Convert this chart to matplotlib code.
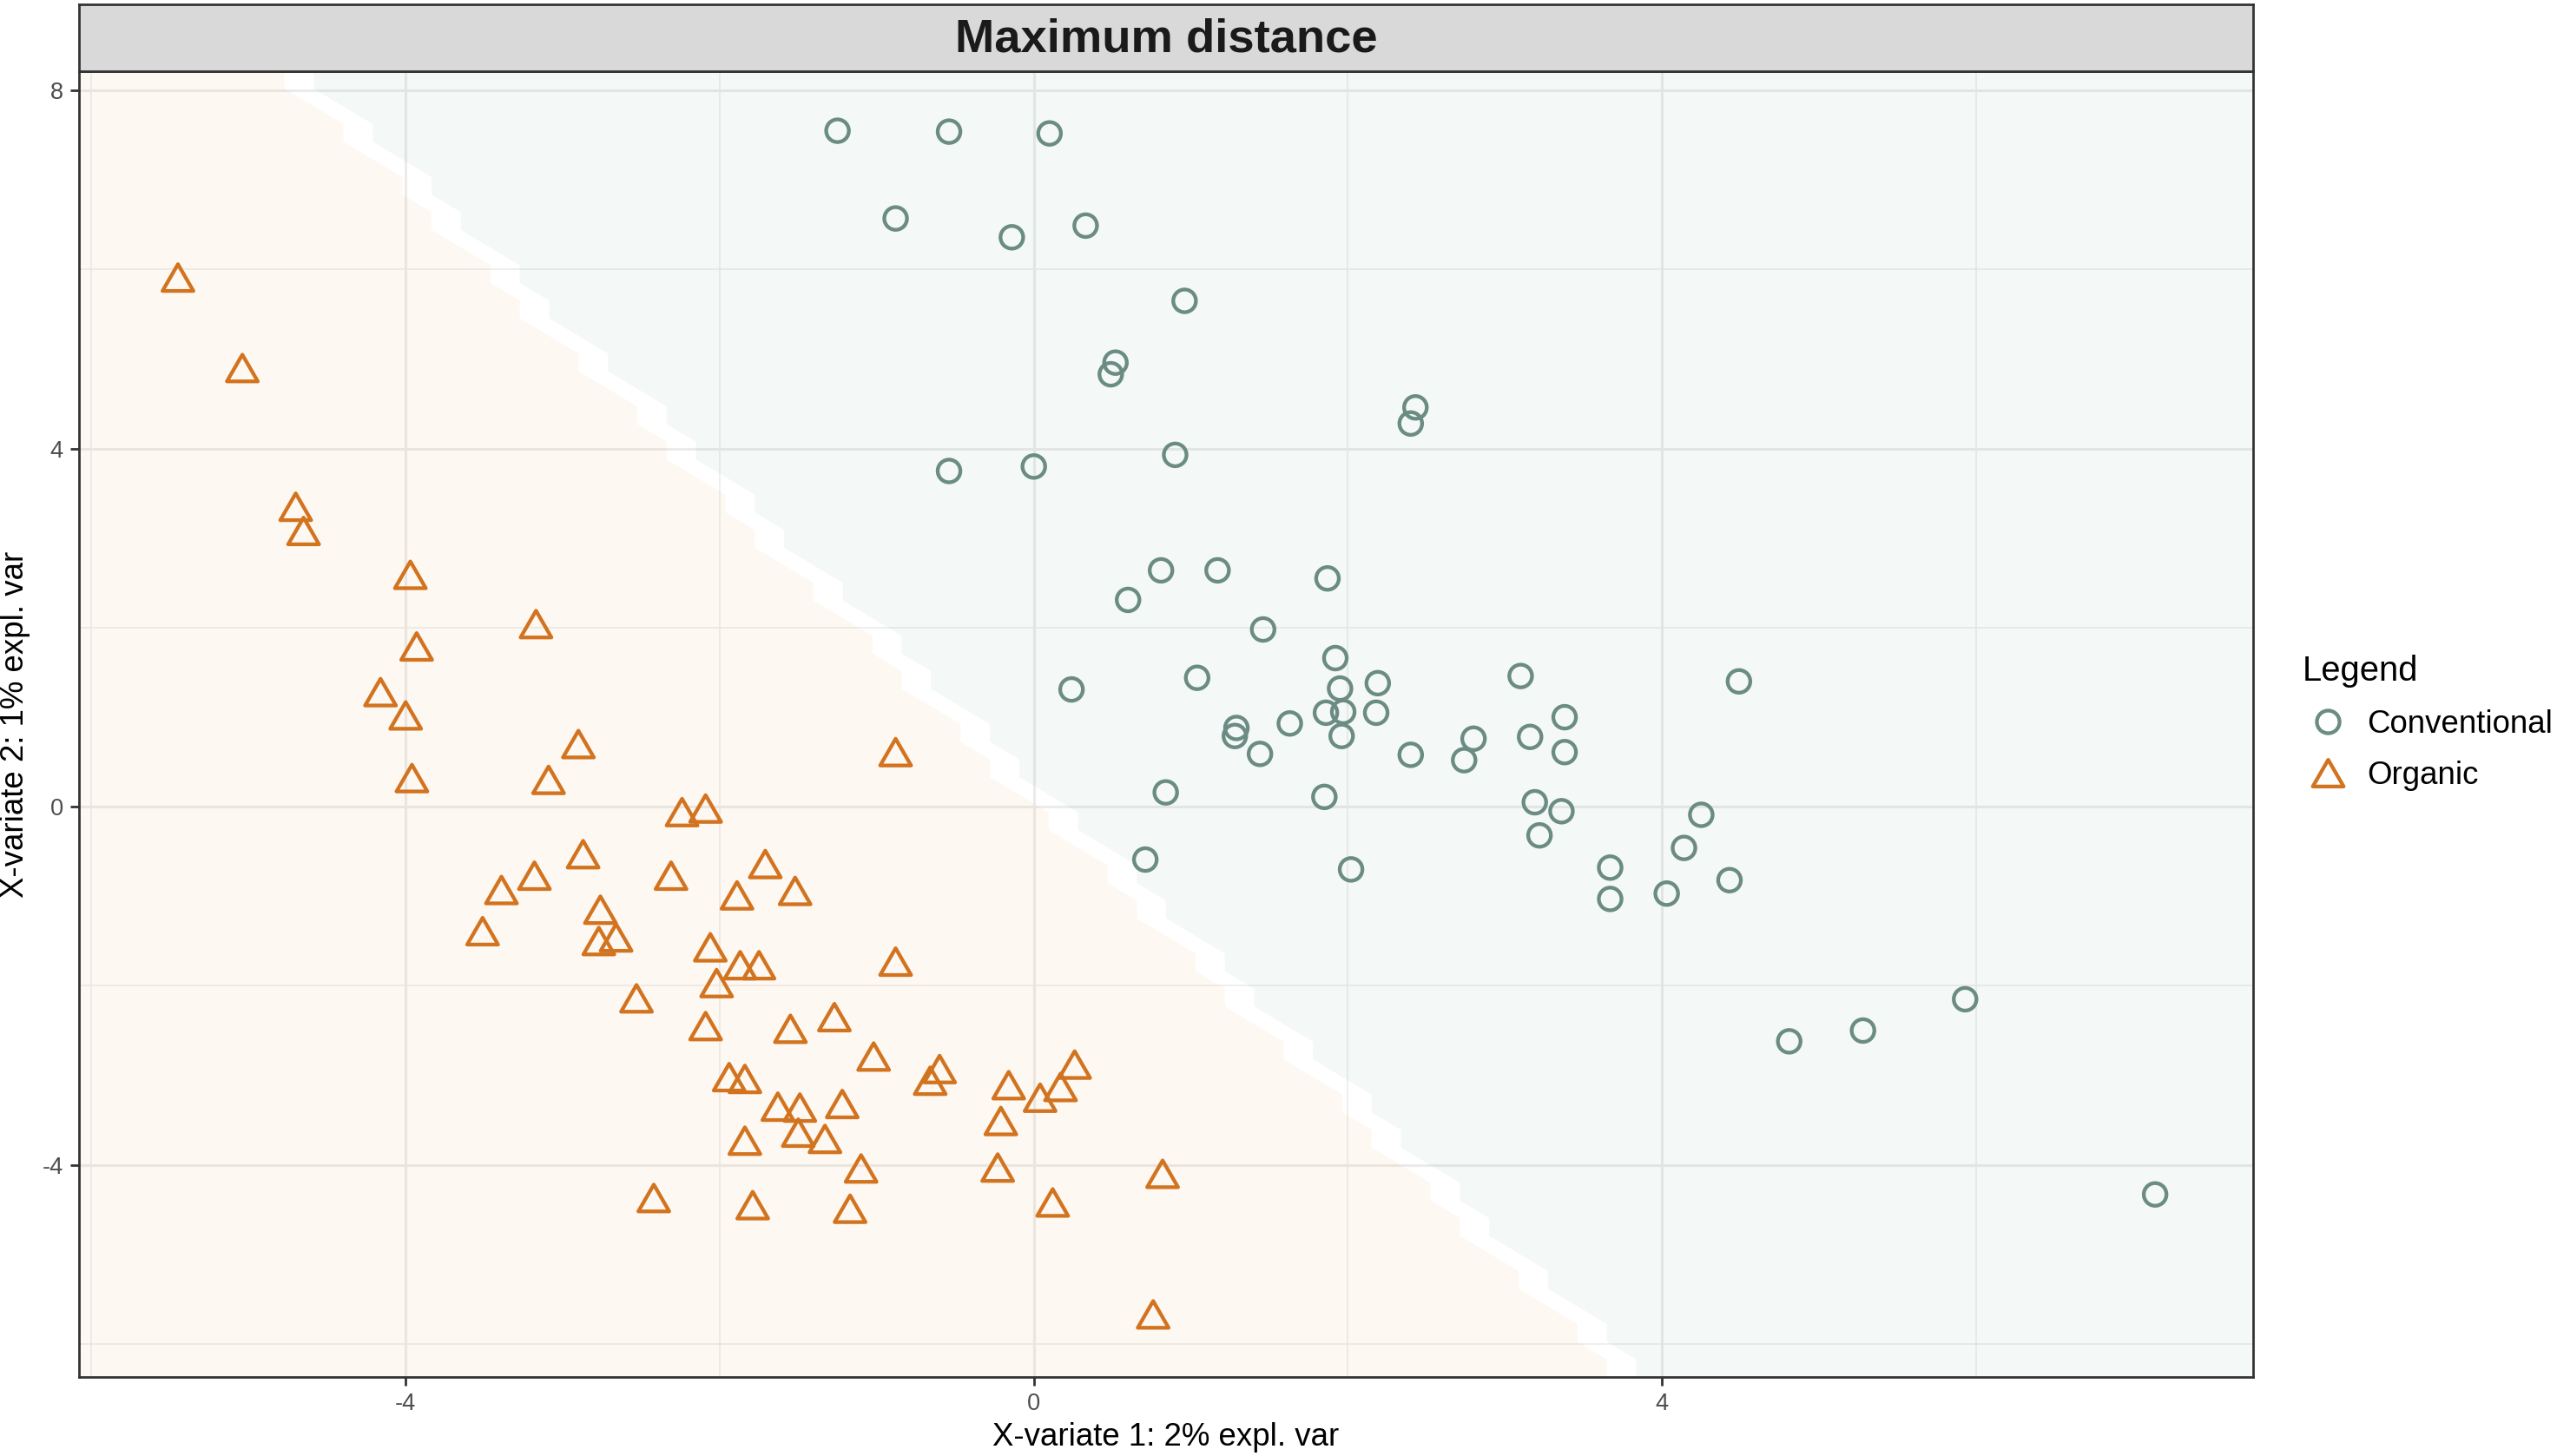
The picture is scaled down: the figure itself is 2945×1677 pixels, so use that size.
import numpy as np
import matplotlib.pyplot as plt
from matplotlib.lines import Line2D
from matplotlib.path import Path

# ---- data ----
conv_x = [-1.25, -0.54, 0.10, -0.88, -0.14, 0.33, 0.96, 0.52, 0.49, 2.43, 2.40,
          -0.54, 0.00, 0.90, 0.81, 1.17, 1.87, 0.60, 1.46, 1.92, 1.04, 0.24,
          3.10, 4.49, 1.95, 2.19, 1.86, 1.97, 2.18, 1.63, 1.29, 1.28, 1.96,
          1.44, 2.40, 2.80, 2.74, 3.16, 3.38, 3.38, 3.19, 3.36, 3.22, 0.84,
          1.85, 0.71, 2.02, 3.67, 3.67, 4.03, 4.25, 4.14, 4.43, 4.81, 5.28,
          5.93, 7.14]
conv_y = [7.55, 7.54, 7.52, 6.57, 6.36, 6.49, 5.65, 4.96, 4.83, 4.46, 4.28,
          3.75, 3.80, 3.93, 2.64, 2.64, 2.55, 2.31, 1.98, 1.66, 1.44, 1.31,
          1.46, 1.40, 1.32, 1.38, 1.05, 1.06, 1.05, 0.93, 0.88, 0.79, 0.79,
          0.59, 0.58, 0.76, 0.52, 0.78, 1.00, 0.61, 0.05, -0.05, -0.32, 0.16,
          0.11, -0.59, -0.70, -0.68, -1.03, -0.97, -0.09, -0.46, -0.82, -2.62,
          -2.50, -2.15, -4.33]

org_x = [-5.45, -5.04, -4.70, -4.65, -3.97, -3.93, -4.16, -4.00, -3.96, -3.17,
         -2.90, -3.09, -2.87, -3.18, -3.39, -3.51, -2.76, -2.77, -2.66, -2.53,
         -2.31, -2.24, -2.09, -1.89, -1.71, -1.52, -2.06, -2.02, -1.87, -1.75,
         -2.09, -1.55, -1.27, -1.94, -1.84, -1.02, -0.88, -0.88, -1.63, -1.49,
         -1.22, -1.50, -1.33, -1.84, -1.10, -2.42, -1.79, -1.17, -0.66, -0.60,
         -0.16, -0.21, -0.23, 0.04, 0.17, 0.26, 0.12, 0.82, 0.76]
org_y = [5.91, 4.90, 3.35, 3.08, 2.59, 1.79, 1.28, 1.02, 0.32, 2.04,
         0.70, 0.30, -0.53, -0.77, -0.93, -1.39, -1.15, -1.50, -1.46, -2.14,
         -0.77, -0.06, -0.02, -0.99, -0.64, -0.94, -1.57, -1.97, -1.77, -1.77,
         -2.45, -2.48, -2.35, -3.02, -3.04, -2.79, -1.73, 0.61, -3.35, -3.36,
         -3.32, -3.64, -3.71, -3.73, -4.04, -4.37, -4.45, -4.49, -3.06, -2.93,
         -3.11, -3.51, -4.03, -3.25, -3.13, -2.88, -4.42, -4.10, -5.67]

group_labels = ["Conventional", "Organic"]

# max.dist prediction boundary between the two classes
bound_icpt = 0.165
bound_slope = -1.711
grid_res = 75

x_lim = (-6.08, 7.764)
y_lim = (-6.369, 8.215)

col_conv = "#6B8C83"
col_org = "#D2731F"

W, H, DPI = 2945, 1677, 200
fig = plt.figure(figsize=(W / DPI, H / DPI), dpi=DPI)
plt.rcParams["font.family"] = ["Liberation Sans", "DejaVu Sans"]

left, right = 91 / W, 2595 / W
bottom, top = 1 - 1586 / H, 1 - 82 / H
ax = fig.add_axes([left, bottom, right - left, top - bottom])
ax.set_xlim(x_lim)
ax.set_ylim(y_lim)

# background prediction grid -> stepped polygons (like mixOmics background)
gx = np.linspace(x_lim[0], x_lim[1], grid_res)
gy = np.linspace(y_lim[0], y_lim[1], grid_res)
GX, GY = np.meshgrid(gx, gy)
is_org = GY < bound_icpt + bound_slope * GX

pad = np.pad(is_org, 1, mode="edge")
up = pad[2:, 1:-1]
down = pad[:-2, 1:-1]
rgt = pad[1:-1, 2:]
lft = pad[1:-1, :-2]

edge_org = is_org & (~up | ~rgt)
edge_conv = ~is_org & (down | lft)


def staircase(mask):
    px, py = GX[mask], GY[mask]
    order = np.lexsort((-py, px))
    return list(zip(px[order], py[order]))


st_org = staircase(edge_org)
st_conv = staircase(edge_conv)
poly_org = [(gx[0], gy[0]), (gx[0], gy[-1])] + st_org + [(st_org[-1][0], gy[0])]
poly_conv = [(st_conv[0][0], gy[-1])] + st_conv + [(gx[-1], gy[0]), (gx[-1], gy[-1])]

ax.fill(*zip(*poly_org), color="#F5AF69", alpha=0.085, lw=0, zorder=1)
ax.fill(*zip(*poly_conv), color="#80B5A8", alpha=0.085, lw=0, zorder=1)

# grid
ax.set_xticks([-4, 0, 4])
ax.set_yticks([-4, 0, 4, 8])
ax.set_xticks([-6, -2, 2, 6], minor=True)
ax.set_yticks([-6, -2, 2, 6], minor=True)
ax.grid(which="major", color="#EBEBEB", lw=1.1, zorder=0)
ax.grid(which="minor", color="#EBEBEB", lw=0.55, zorder=0)
ax.set_axisbelow(True)

# points
ax.scatter(conv_x, conv_y, s=9.4 ** 2, facecolors="none", edgecolors=col_conv,
           linewidths=1.55, zorder=3)
tri = Path([(0, 0.866), (-1, -0.866), (1, -0.866), (0, 0.866)],
           [Path.MOVETO, Path.LINETO, Path.LINETO, Path.CLOSEPOLY])
ax.scatter(org_x, org_y, s=12.8 ** 2, marker=tri, facecolors="none",
           edgecolors=col_org, linewidths=1.55, zorder=3)

# frame / ticks
for sp in ax.spines.values():
    sp.set_color("#333333")
    sp.set_linewidth(1.0)
ax.tick_params(which="major", length=3.5, width=1.0, color="#333333",
               labelcolor="#4D4D4D", labelsize=9.8, pad=3)
ax.tick_params(which="minor", length=0)
ax.set_xticklabels(["-4", "0", "4"])
ax.set_yticklabels(["-4", "0", "4", "8"])
for lab in ax.get_xticklabels() + ax.get_yticklabels():
    lab.set_family(["Liberation Sans Narrow", "Liberation Sans"])

ax.set_xlabel("X-variate 1: 2% expl. var", fontsize=13.2, labelpad=3)
ax.set_ylabel("X-variate 2: 1% expl. var", fontsize=13.2, labelpad=5)

# facet strip
strip = fig.add_axes([left, top, right - left, (1 - 5 / H) - top])
strip.set_facecolor("#D9D9D9")
strip.set_xticks([])
strip.set_yticks([])
for sp in strip.spines.values():
    sp.set_color("#333333")
    sp.set_linewidth(1.0)
strip.text(0.5, 0.48, "Maximum distance", ha="center", va="center",
           fontsize=19.6, fontweight="bold", color="#1A1A1A",
           transform=strip.transAxes)

# legend
handles = [
    Line2D([], [], ls="none", marker="o", ms=9.4, mfc="none", mec=col_conv, mew=1.55),
    Line2D([], [], ls="none", marker=tri, ms=12.8, mfc="none", mec=col_org, mew=1.55),
]
leg = fig.legend(handles, group_labels, loc="upper left",
                 bbox_to_anchor=(2633 / W, 1 - 736 / H), frameon=False,
                 title="Legend", title_fontsize=14.4, fontsize=13.2,
                 alignment="left", borderpad=0, handlelength=1.6,
                 handletextpad=0.45, labelspacing=0.66)

fig.savefig("out.png", dpi=DPI)
